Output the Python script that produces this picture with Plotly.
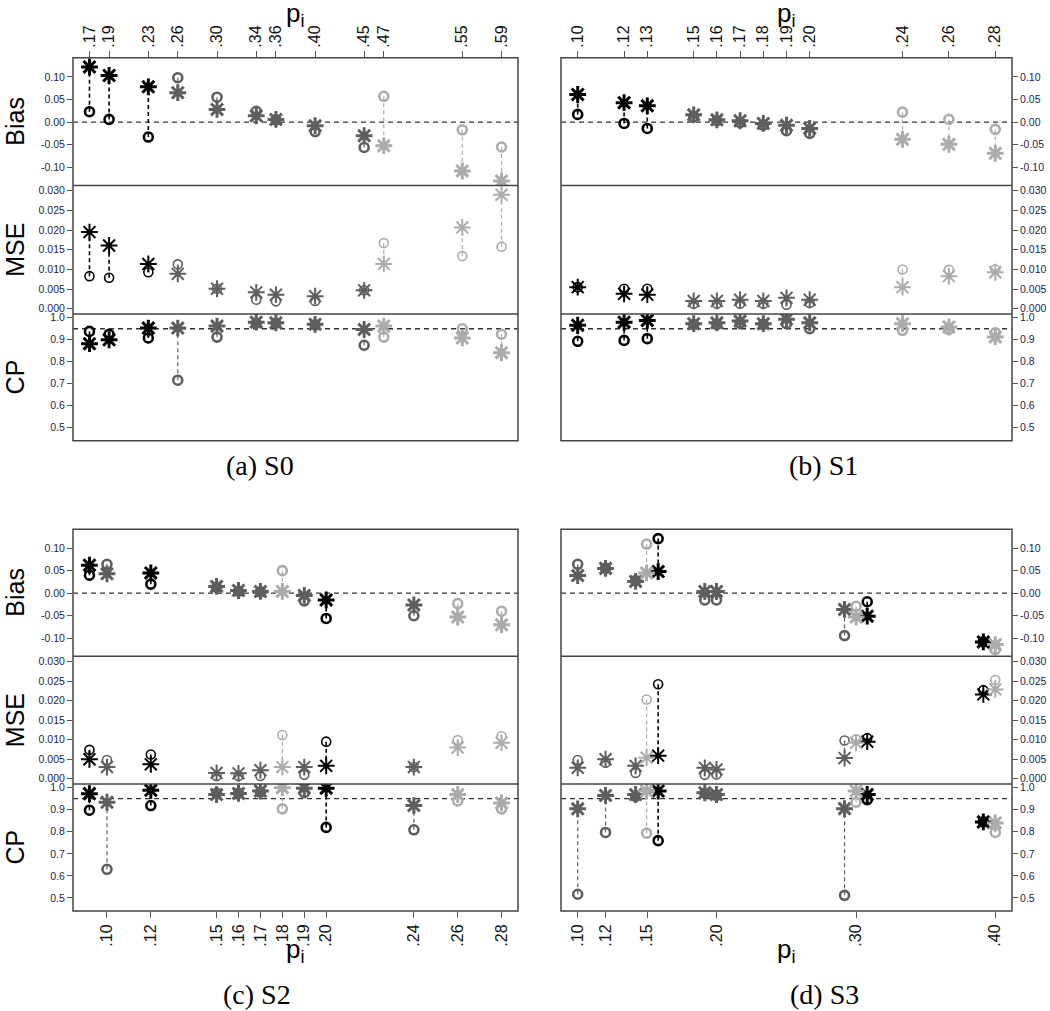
import plotly.graph_objects as go

W, H = 1050, 1011

# ---------------- data ----------------
# (a) S0
p_S0 = [0.17, 0.19, 0.23, 0.26, 0.30, 0.34, 0.36, 0.40, 0.45, 0.47, 0.55, 0.59]
grp_S0 = [0, 0, 0, 1, 1, 1, 1, 1, 1, 2, 2, 2]
bias_ast_S0 = [0.122, 0.103, 0.078, 0.065, 0.028, 0.014, 0.006, -0.008, -0.030, -0.052, -0.108, -0.130]
bias_circ_S0 = [0.023, 0.006, -0.033, 0.098, 0.055, 0.024, 0.005, -0.021, -0.056, 0.057, -0.017, -0.055]
mse_ast_S0 = [0.0195, 0.0161, 0.0114, 0.0089, 0.0051, 0.0042, 0.0036, 0.0032, 0.0047, 0.0114, 0.0207, 0.0290]
mse_circ_S0 = [0.0083, 0.0079, 0.0093, 0.0113, 0.0051, 0.0023, 0.0019, 0.0020, 0.0047, 0.0167, 0.0134, 0.0158]
cp_ast_S0 = [0.882, 0.900, 0.953, 0.953, 0.962, 0.980, 0.977, 0.970, 0.947, 0.962, 0.908, 0.841]
cp_circ_S0 = [0.938, 0.925, 0.908, 0.716, 0.912, 0.975, 0.975, 0.968, 0.875, 0.912, 0.950, 0.925]
ticks_S0 = [0.17, 0.19, 0.23, 0.26, 0.30, 0.34, 0.36, 0.40, 0.45, 0.47, 0.55, 0.59]
ticklabels_S0 = [".17", ".19", ".23", ".26", ".30", ".34", ".36", ".40", ".45", ".47", ".55", ".59"]

# (b) S1
p_S1 = [0.10, 0.12, 0.13, 0.15, 0.16, 0.17, 0.18, 0.19, 0.20, 0.24, 0.26, 0.28]
grp_S1 = [0, 0, 0, 1, 1, 1, 1, 1, 1, 2, 2, 2]
bias_ast_S1 = [0.061, 0.043, 0.036, 0.016, 0.005, 0.003, -0.003, -0.007, -0.014, -0.038, -0.049, -0.069]
bias_circ_S1 = [0.017, -0.003, -0.014, 0.012, 0.003, -0.001, -0.007, -0.019, -0.025, 0.022, 0.006, -0.016]
mse_ast_S1 = [0.0055, 0.0038, 0.0036, 0.0020, 0.0020, 0.0023, 0.0020, 0.0028, 0.0023, 0.0055, 0.0083, 0.0093]
mse_circ_S1 = [0.0055, 0.0051, 0.0051, 0.0013, 0.0013, 0.0013, 0.0013, 0.0010, 0.0015, 0.0100, 0.0099, 0.0100]
cp_ast_S1 = [0.966, 0.980, 0.988, 0.973, 0.977, 0.985, 0.973, 0.993, 0.977, 0.973, 0.958, 0.913]
cp_circ_S1 = [0.893, 0.897, 0.905, 0.970, 0.970, 0.975, 0.970, 0.973, 0.950, 0.943, 0.947, 0.932]
ticks_S1 = [0.10, 0.12, 0.13, 0.15, 0.16, 0.17, 0.18, 0.19, 0.20, 0.24, 0.26, 0.28]
ticklabels_S1 = [".10", ".12", ".13", ".15", ".16", ".17", ".18", ".19", ".20", ".24", ".26", ".28"]

# (c) S2
p_S2 = [0.092, 0.10, 0.12, 0.15, 0.16, 0.17, 0.18, 0.19, 0.20, 0.24, 0.26, 0.28]
grp_S2 = [0, 1, 0, 1, 1, 1, 2, 1, 0, 1, 2, 2]
bias_ast_S2 = [0.062, 0.043, 0.045, 0.015, 0.006, 0.004, 0.004, -0.005, -0.015, -0.026, -0.053, -0.070]
bias_circ_S2 = [0.040, 0.064, 0.020, 0.013, 0.004, 0.003, 0.050, -0.017, -0.056, -0.050, -0.023, -0.040]
mse_ast_S2 = [0.0050, 0.0030, 0.0037, 0.0015, 0.0014, 0.0022, 0.0030, 0.0030, 0.0033, 0.0030, 0.0080, 0.0092]
mse_circ_S2 = [0.0074, 0.0048, 0.0062, 0.0007, 0.0007, 0.0007, 0.0112, 0.0010, 0.0095, 0.0030, 0.0099, 0.0109]
cp_ast_S2 = [0.973, 0.934, 0.988, 0.969, 0.974, 0.985, 1.000, 0.998, 0.998, 0.919, 0.969, 0.931]
cp_circ_S2 = [0.898, 0.630, 0.919, 0.975, 0.975, 0.980, 0.904, 0.977, 0.820, 0.809, 0.940, 0.904]
ticks_S2 = [0.10, 0.12, 0.15, 0.16, 0.17, 0.18, 0.19, 0.20, 0.24, 0.26, 0.28]
ticklabels_S2 = [".10", ".12", ".15", ".16", ".17", ".18", ".19", ".20", ".24", ".26", ".28"]

# (d) S3
p_S3 = [0.10, 0.12, 0.1416, 0.1495, 0.1578, 0.1913, 0.1997, 0.2917, 0.300, 0.308, 0.3914, 0.40]
grp_S3 = [1, 1, 1, 2, 0, 1, 1, 1, 2, 0, 0, 2]
bias_ast_S3 = [0.039, 0.055, 0.026, 0.045, 0.048, 0.004, 0.004, -0.036, -0.053, -0.051, -0.108, -0.114]
bias_circ_S3 = [0.064, 0.055, 0.028, 0.109, 0.121, -0.015, -0.015, -0.094, -0.029, -0.019, -0.108, -0.125]
mse_ast_S3 = [0.0028, 0.0050, 0.0033, 0.0054, 0.0059, 0.0028, 0.0024, 0.0053, 0.0092, 0.0095, 0.0216, 0.0229]
mse_circ_S3 = [0.0048, 0.0041, 0.0015, 0.0203, 0.0242, 0.0010, 0.0011, 0.0098, 0.0101, 0.0104, 0.0227, 0.0253]
cp_ast_S3 = [0.904, 0.965, 0.969, 0.985, 0.985, 0.977, 0.969, 0.905, 0.985, 0.969, 0.845, 0.840]
cp_circ_S3 = [0.517, 0.797, 0.960, 0.794, 0.760, 0.975, 0.965, 0.512, 0.934, 0.946, 0.845, 0.797]
ticks_S3 = [0.10, 0.12, 0.15, 0.20, 0.30, 0.40]
ticklabels_S3 = [".10", ".12", ".15", ".20", ".30", ".40"]

captions = ["(a) S0", "(b) S1", "(c) S2", "(d) S3"]
row_titles = ["Bias", "MSE", "CP"]
bias_ticks = [-0.10, -0.05, 0.0, 0.05, 0.10]
bias_ticklabels = ["-0.10", "-0.05", "0.00", "0.05", "0.10"]
mse_ticks = [0.0, 0.005, 0.010, 0.015, 0.020, 0.025, 0.030]
mse_ticklabels = ["0.000", "0.005", "0.010", "0.015", "0.020", "0.025", "0.030"]
cp_ticks = [0.5, 0.6, 0.7, 0.8, 0.9, 1.0]
cp_ticklabels = ["0.5", "0.6", "0.7", "0.8", "0.9", "1.0"]
bias_ref = 0.0
cp_ref = 0.95

# ---------------- style / layout ----------------
colors = ["#000000", "#5e5e5e", "#ababab"]
tick_col = "#22224a"
frame_col = "#454545"

panels = [
    dict(p=p_S0, g=grp_S0, rows=[(bias_ast_S0, bias_circ_S0), (mse_ast_S0, mse_circ_S0), (cp_ast_S0, cp_circ_S0)],
         ticks=ticks_S0, labels=ticklabels_S0, xr=[0.1532, 0.6068], px=(73, 518), top=True, left=True, cap=(260, 464)),
    dict(p=p_S1, g=grp_S1, rows=[(bias_ast_S1, bias_circ_S1), (mse_ast_S1, mse_circ_S1), (cp_ast_S1, cp_circ_S1)],
         ticks=ticks_S1, labels=ticklabels_S1, xr=[0.0928, 0.2872], px=(561, 1012), top=True, left=False, cap=(823, 464)),
    dict(p=p_S2, g=grp_S2, rows=[(bias_ast_S2, bias_circ_S2), (mse_ast_S2, mse_circ_S2), (cp_ast_S2, cp_circ_S2)],
         ticks=ticks_S2, labels=ticklabels_S2, xr=[0.0845, 0.2875], px=(73, 518), top=False, left=True, cap=(257, 994)),
    dict(p=p_S3, g=grp_S3, rows=[(bias_ast_S3, bias_circ_S3), (mse_ast_S3, mse_circ_S3), (cp_ast_S3, cp_circ_S3)],
         ticks=ticks_S3, labels=ticklabels_S3, xr=[0.088, 0.412], px=(561, 1012), top=False, left=False, cap=(824, 994)),
]
row_px_top = [55, 183, 312, 439]
row_px_bot = [527.7, 655.3, 783.3, 910.7]
yranges = [[-0.140, 0.142], [-0.00134, 0.03136], [0.441, 1.0168]]
ytv = [(bias_ticks, bias_ticklabels), (mse_ticks, mse_ticklabels), (cp_ticks, cp_ticklabels)]


def fx(px):
    return px / W


def fy(px):
    return 1 - px / H


fig = go.Figure()
layout = {}
shapes = []
annotations = []

for i, P in enumerate(panels):
    xname = "x" if i == 0 else f"x{i + 1}"
    xkey = "xaxis" if i == 0 else f"xaxis{i + 1}"
    bounds = row_px_top if P["top"] else row_px_bot
    ynames = []
    for r in range(3):
        idx = 3 * i + r + 1
        yname = "y" if idx == 1 else f"y{idx}"
        ykey = "yaxis" if idx == 1 else f"yaxis{idx}"
        ynames.append(yname)
        layout[ykey] = dict(
            domain=[fy(bounds[r + 1]), fy(bounds[r])], range=yranges[r], anchor=xname,
            side="left" if P["left"] else "right",
            tickvals=ytv[r][0], ticktext=ytv[r][1], ticks="outside", ticklen=5, tickwidth=1,
            tickcolor="#555555", tickfont=dict(size=10.5, color=tick_col, family="Liberation Sans"),
            showgrid=False, zeroline=False, showline=False, fixedrange=True,
        )
        asts, circs = P["rows"][r]
        thick = 3.0 if r != 1 else 2.0
        cthick = 2.6 if r != 1 else 1.6
        for gidx in range(3):
            sel = [k for k in range(len(P["p"])) if P["g"][k] == gidx]
            if not sel:
                continue
            col = colors[gidx]
            sx, sy = [], []
            for k in sel:
                sx += [P["p"][k], P["p"][k], None]
                sy += [circs[k], asts[k], None]
            fig.add_trace(go.Scatter(
                x=sx, y=sy, mode="lines", xaxis=xname, yaxis=yname, showlegend=False,
                line=dict(color=col, width=1.6 if gidx == 0 else 1.2, dash="4px,3px"), hoverinfo="skip"))
        for gidx in range(3):
            sel = [k for k in range(len(P["p"])) if P["g"][k] == gidx]
            if not sel:
                continue
            col = colors[gidx]
            fig.add_trace(go.Scatter(
                x=[P["p"][k] for k in sel], y=[asts[k] for k in sel], mode="markers",
                xaxis=xname, yaxis=yname, showlegend=False,
                marker=dict(symbol="asterisk-open", size=14, color=col, line=dict(color=col, width=thick))))
            fig.add_trace(go.Scatter(
                x=[P["p"][k] for k in sel], y=[circs[k] for k in sel], mode="markers",
                xaxis=xname, yaxis=yname, showlegend=False,
                marker=dict(symbol="circle-open", size=9, color=col, line=dict(color=col, width=cthick))))
    layout[xkey] = dict(
        domain=[fx(P["px"][0]), fx(P["px"][1])], range=P["xr"],
        anchor=ynames[0] if P["top"] else ynames[2], side="top" if P["top"] else "bottom",
        tickvals=P["ticks"], ticktext=P["labels"], tickangle=-90, ticks="outside", ticklen=6,
        tickcolor="#555555", tickfont=dict(size=16, color="#111111", family="Liberation Sans"),
        showgrid=False, zeroline=False, showline=False, fixedrange=True,
    )
    # frame & separators
    shapes.append(dict(type="rect", xref="paper", yref="paper", x0=fx(P["px"][0]), x1=fx(P["px"][1]),
                       y0=fy(bounds[3]), y1=fy(bounds[0]), line=dict(color=frame_col, width=1.5)))
    for b in bounds[1:3]:
        shapes.append(dict(type="line", xref="paper", yref="paper", x0=fx(P["px"][0]), x1=fx(P["px"][1]),
                           y0=fy(b), y1=fy(b), line=dict(color=frame_col, width=1.5)))
    # reference lines
    shapes.append(dict(type="line", xref=f"{xname} domain", yref=ynames[0], x0=0, x1=1, y0=bias_ref, y1=bias_ref,
                       line=dict(color="#333333", width=1.3, dash="5px,4px"), layer="below"))
    shapes.append(dict(type="line", xref=f"{xname} domain", yref=ynames[2], x0=0, x1=1, y0=cp_ref, y1=cp_ref,
                       line=dict(color="#333333", width=1.3, dash="5px,4px"), layer="below"))
    # row titles
    if P["left"]:
        for r in range(3):
            annotations.append(dict(text=row_titles[r], x=fx(15), y=fy((bounds[r] + bounds[r + 1]) / 2),
                                    xref="paper", yref="paper", showarrow=False, textangle=-90,
                                    xanchor="center", yanchor="middle",
                                    font=dict(size=25, family="Liberation Sans", color="#000000")))
    # p_i label
    xc = (P["px"][0] + P["px"][1]) / 2
    annotations.append(dict(text="p<sub>i</sub>", x=fx(xc), y=fy(12 if P["top"] else 950),
                            xref="paper", yref="paper", showarrow=False, xanchor="center", yanchor="middle",
                            font=dict(size=26, family="Liberation Sans", color="#000000")))
    # caption
    annotations.append(dict(text=captions[i], x=fx(P["cap"][0]), y=fy(P["cap"][1]), xref="paper", yref="paper",
                            showarrow=False, xanchor="center", yanchor="middle",
                            font=dict(size=28, family="Liberation Serif", color="#000000")))

fig.update_layout(
    width=W, height=H, autosize=False,
    margin=dict(l=0, r=0, t=0, b=0),
    paper_bgcolor="white", plot_bgcolor="white",
    shapes=shapes, annotations=annotations, showlegend=False,
    **layout,
)

fig.write_html("out.html", config={"displayModeBar": False},
               post_script="document.body.style.margin='0';document.body.style.overflow='hidden';")
